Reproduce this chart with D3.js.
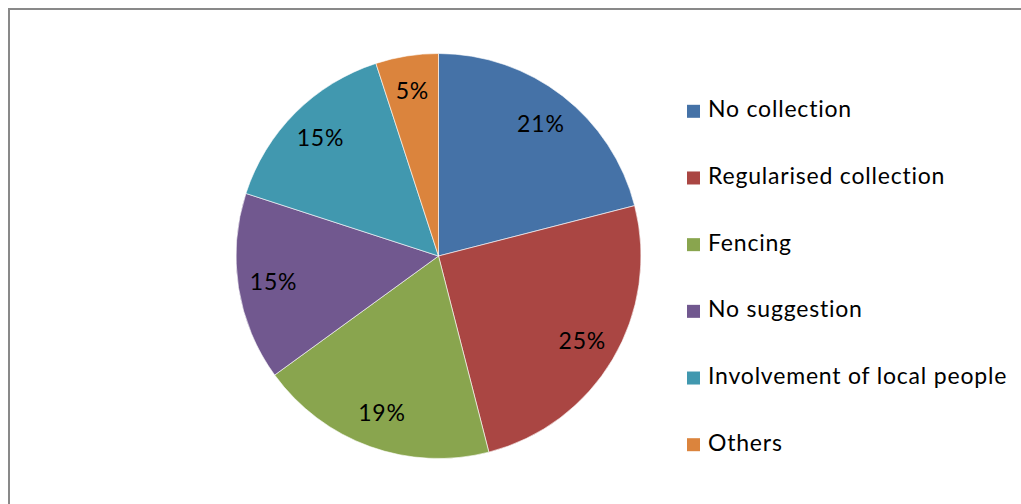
<!DOCTYPE html>
<html>
<head>
<meta charset="utf-8">
<script src="https://cdn.jsdelivr.net/npm/d3@7"></script>
<style>
  html, body { margin: 0; padding: 0; background: #fff; overflow: hidden; }
  svg { display: block; font-family: Lato, "Open Sans", sans-serif; }
</style>
</head>
<body>
<svg id="chart" width="1021" height="504"></svg>
<script>
// Suggestions for protecting the resource (percent of respondents)
const categories = ["No collection", "Regularised collection", "Fencing", "No suggestion", "Involvement of local people", "Others"];
const percentages = [21, 25, 19, 15, 15, 5];
const sliceColors = ["#4572A7", "#AA4643", "#89A54E", "#71588F", "#4198AF", "#DB843D"];

const W = 1021, H = 504;
const cx = 438.5, cy = 256, radius = 202.5, labelRadius = 167;
const fontSize = 23, tracking = 0.8;

const svg = d3.select("#chart");

// Outer chart frame
svg.append("rect")
  .attr("x", 9).attr("y", 9)
  .attr("width", 1100).attr("height", 600)
  .attr("fill", "none")
  .attr("stroke", "#898989")
  .attr("stroke-width", 2);

const data = categories.map((c, i) => ({ name: c, value: percentages[i], color: sliceColors[i] }));

const pie = d3.pie().value(d => d.value).sort(null);
const arcs = pie(data);
const arc = d3.arc().innerRadius(0).outerRadius(radius);
const labelArc = d3.arc().innerRadius(labelRadius).outerRadius(labelRadius);

const g = svg.append("g").attr("transform", `translate(${cx},${cy})`);

g.selectAll("path.slice")
  .data(arcs)
  .join("path")
  .attr("class", "slice")
  .attr("d", arc)
  .attr("fill", d => d.data.color)
  .attr("stroke", "#ffffff")
  .attr("stroke-width", 0.6);

g.selectAll("text.pct")
  .data(arcs)
  .join("text")
  .attr("class", "pct")
  .attr("transform", d => `translate(${labelArc.centroid(d)})`)
  .attr("text-anchor", "middle")
  .attr("dy", "0.36em")
  .attr("font-size", fontSize)
  .attr("letter-spacing", tracking)
  .attr("fill", "#000")
  .text(d => d.data.value + "%");

// Legend
const legendY = d3.scalePoint().domain(categories).range([117.3, 450.7]);
const legend = svg.append("g");
const items = legend.selectAll("g.item")
  .data(data)
  .join("g")
  .attr("class", "item")
  .attr("transform", d => `translate(0,${legendY(d.name)})`);

items.append("rect")
  .attr("x", 687).attr("y", -12.5)
  .attr("width", 13).attr("height", 13)
  .attr("fill", d => d.color);

items.append("text")
  .attr("x", 708).attr("y", 0)
  .attr("font-size", fontSize)
  .attr("letter-spacing", tracking)
  .attr("fill", "#000")
  .text(d => d.name);
</script>
</body>
</html>
